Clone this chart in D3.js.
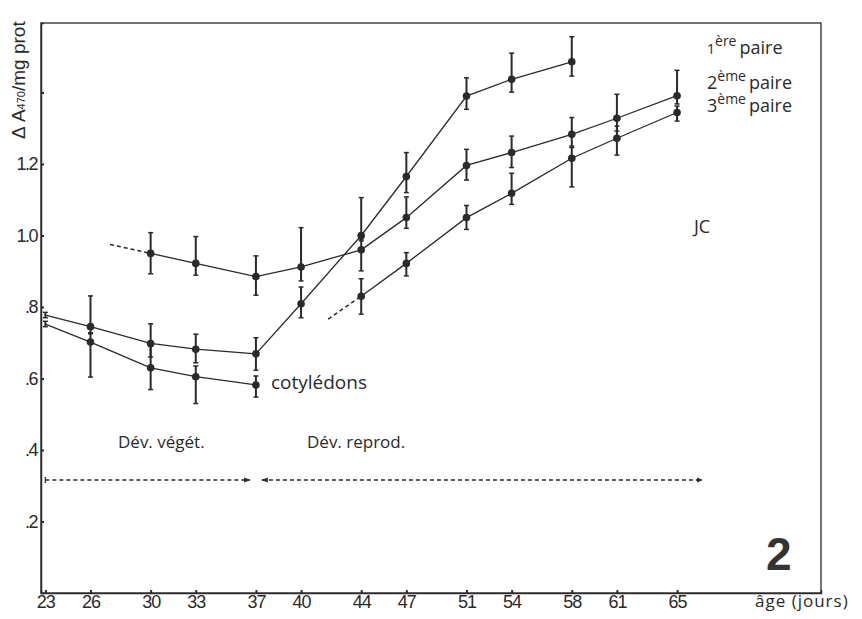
<!DOCTYPE html>
<html><head><meta charset="utf-8">
<script src="https://cdn.jsdelivr.net/npm/d3@7"></script>
<style>
body{margin:0;background:#fff;}
svg{display:block;}
.tick text{font-family:"Liberation Sans",Arial,sans-serif;}
</style></head>
<body><svg id="c" width="862" height="619"></svg>
<script>
// ---- data ----
const xTickDays = [23,26,30,33,37,40,44,47,51,54,58,61,65];
const yTickValues = [0.2,0.4,0.6,0.8,1.0,1.2];
const yTickLabels = [".2",".4",".6",".8","1.0","1.2"];

const s1Days = [23,26,30,33,37,40,44,47,51,54,58];
const s1Vals = [0.777,0.745,0.698,0.682,0.669,0.809,1.000,1.165,1.390,1.437,1.486];
const s1Lo   = [0.770,0.725,0.660,0.644,0.623,0.770,0.985,1.120,1.353,1.401,1.446];
const s1Hi   = [0.785,0.831,0.753,0.724,0.714,0.856,1.106,1.232,1.441,1.510,1.556];

const s2Days = [30,33,37,40,44,47,51,54,58,61,65];
const s2Vals = [0.950,0.922,0.885,0.912,0.960,1.050,1.196,1.232,1.283,1.328,1.391];
const s2Lo   = [0.893,0.889,0.833,0.873,0.901,1.020,1.155,1.190,1.250,1.292,1.368];
const s2Hi   = [1.008,0.997,0.943,1.022,0.990,1.108,1.241,1.278,1.330,1.395,1.462];
const s2Lead = [27.3,0.975];

const s3Days = [44,47,51,54,58,61,65];
const s3Vals = [0.830,0.922,1.050,1.118,1.216,1.272,1.344];
const s3Lo   = [0.780,0.887,1.017,1.087,1.136,1.225,1.320];
const s3Hi   = [0.879,0.952,1.084,1.174,1.246,1.306,1.362];
const s3Lead = [41.8,0.766];

const cotDays = [23,26,30,33,37];
const cotVals = [0.752,0.702,0.630,0.605,0.582];
const cotLo   = [0.745,0.604,0.569,0.530,0.548];
const cotHi   = [0.760,0.728,0.690,0.635,0.607];

const seriesNames = ["1ère paire","2ème paire","3ème paire","cotylédons"];
const phaseVeg = [23,36.6];
const phaseRep = [37.4,66.7];

// ---- layout ----
const svg = d3.select("#c");
const ink = "#2a2a2a";
const L=41, R=821, T=23, B=593;
const x = d3.scaleLinear().domain([22.71,74.57]).range([L,R]);
const y = d3.scaleLinear().domain([0,1.5944]).range([B,T]);

// frame
svg.append("rect").attr("x",L).attr("y",T).attr("width",R-L).attr("height",B-T)
  .attr("fill","none").attr("stroke",ink).attr("stroke-width",1.3);

// axes
const xAxis = d3.axisBottom(x).tickValues(xTickDays).tickSize(-3).tickPadding(2).tickFormat(d3.format("d"));
const gx = svg.append("g").attr("transform",`translate(0,${B})`).call(xAxis);
gx.select(".domain").attr("stroke",ink).attr("stroke-width",1.5);
gx.selectAll(".tick line").attr("stroke",ink).attr("stroke-width",2);
gx.selectAll(".tick text").attr("font-size",18).attr("fill",ink).attr("letter-spacing","-1px");

const yAxis = d3.axisLeft(y).tickValues(yTickValues.concat([1.4])).tickSize(-3).tickPadding(4)
  .tickFormat(d=>{const i=yTickValues.indexOf(d);return i<0?"":yTickLabels[i];});
const gy = svg.append("g").attr("transform",`translate(${L},0)`).call(yAxis);
gy.select(".domain").attr("stroke",ink).attr("stroke-width",1.5);
gy.selectAll(".tick line").attr("stroke",ink).attr("stroke-width",2);
gy.selectAll(".tick text").attr("font-size",18).attr("fill",ink).attr("letter-spacing","-1.5px");

// y title
const yt = svg.append("text").attr("transform","translate(25,139) rotate(-90)")
  .attr("font-family","'Liberation Sans',Arial,sans-serif").attr("font-size",19).attr("fill",ink);
yt.append("tspan").text("Δ A");
yt.append("tspan").attr("font-size",11).text("470");
yt.append("tspan").text("/mg prot");

// x title
svg.append("text").attr("x",755).attr("y",607).attr("font-family","'Open Sans',sans-serif")
  .attr("font-size",17).attr("letter-spacing","1px").attr("fill",ink).text("âge (jours)");

const line = d3.line().x(d=>x(d[0])).y(d=>y(d[1]));

function drawSeries(days,vals,lo,hi,lead){
  const pts = days.map((d,i)=>[d,vals[i]]);
  svg.append("path").datum(pts).attr("d",line).attr("fill","none")
    .attr("stroke",ink).attr("stroke-width",1.3);
  if(lead){
    svg.append("path").datum([lead,pts[0]]).attr("d",line).attr("fill","none")
      .attr("stroke",ink).attr("stroke-width",1.5).attr("stroke-dasharray","4,3");
  }
  const g = svg.append("g");
  days.forEach((d,i)=>{
    const cx=x(d);
    g.append("line").attr("x1",cx).attr("x2",cx).attr("y1",y(lo[i])).attr("y2",y(hi[i]))
      .attr("stroke",ink).attr("stroke-width",2);
    [lo[i],hi[i]].forEach(v=>g.append("line").attr("x1",cx-2.5).attr("x2",cx+2.5)
      .attr("y1",y(v)).attr("y2",y(v)).attr("stroke",ink).attr("stroke-width",1.5));
    if(d!==23) g.append("circle").attr("cx",cx).attr("cy",y(vals[i])).attr("r",3.8).attr("fill",ink);
  });
}
drawSeries(s1Days,s1Vals,s1Lo,s1Hi,null);
drawSeries(s2Days,s2Vals,s2Lo,s2Hi,s2Lead);
drawSeries(s3Days,s3Vals,s3Lo,s3Hi,s3Lead);
drawSeries(cotDays,cotVals,cotLo,cotHi,null);

// labels
const lf = "'Open Sans',sans-serif";
function pairLabel(num,sup,yb){
  const t = svg.append("text").attr("x",707).attr("y",yb).attr("font-family",lf)
    .attr("font-size",18).attr("fill",ink);
  t.append("tspan").attr("font-size",num==="1"?14:18).text(num);
  t.append("tspan").attr("font-size",14).attr("dy",-8).text(sup);
  t.append("tspan").attr("dy",8).attr("dx",3).text("paire");
}
pairLabel("1","ère",54);
pairLabel("2","ème",89);
pairLabel("3","ème",112);

svg.append("text").attr("x",x(cotDays[cotDays.length-1])+15).attr("y",y(cotVals[cotVals.length-1])+4)
  .attr("font-family",lf).attr("font-size",19).attr("fill",ink).text(seriesNames[3]);
svg.append("text").attr("x",694).attr("y",233).attr("font-family",lf)
  .attr("font-size",18).attr("fill",ink).text("JC");

svg.append("text").attr("x",118).attr("y",448).attr("font-family",lf)
  .attr("font-size",17).attr("fill",ink).text("Dév. végét.");
svg.append("text").attr("x",307).attr("y",448).attr("font-family",lf)
  .attr("font-size",17).attr("fill",ink).text("Dév. reprod.");

// phase arrows
const defs = svg.append("defs");
defs.append("marker").attr("id","ah").attr("viewBox","0 0 10 10").attr("refX",9).attr("refY",5)
  .attr("markerWidth",5).attr("markerHeight",5).attr("orient","auto-start-reverse")
  .append("path").attr("d","M0,1L10,5L0,9z").attr("fill",ink);
const ay = 480;
svg.append("line").attr("x1",x(phaseVeg[0])).attr("x2",x(phaseVeg[1])).attr("y1",ay).attr("y2",ay)
  .attr("stroke",ink).attr("stroke-width",1.3).attr("stroke-dasharray","4,3").attr("marker-end","url(#ah)");
svg.append("line").attr("x1",x(phaseVeg[0])).attr("x2",x(phaseVeg[0])).attr("y1",ay-3).attr("y2",ay+3)
  .attr("stroke",ink).attr("stroke-width",1.3);
svg.append("line").attr("x1",x(phaseRep[0])).attr("x2",x(phaseRep[1])).attr("y1",ay).attr("y2",ay)
  .attr("stroke",ink).attr("stroke-width",1.3).attr("stroke-dasharray","4,3")
  .attr("marker-start","url(#ah)").attr("marker-end","url(#ah)");

// figure number
svg.append("text").attr("x",766).attr("y",570).attr("font-family","'Liberation Sans',Arial,sans-serif")
  .attr("font-weight","bold").attr("font-size",46).attr("fill","#333").text("2");
</script></body></html>
